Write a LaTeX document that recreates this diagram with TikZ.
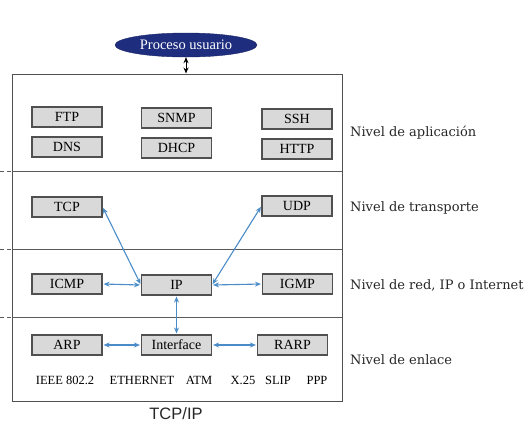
\documentclass[tikz,border=0pt]{standalone}
\usepackage{fontspec}
\setmainfont{Liberation Serif}
\newfontfamily\labelfont{DejaVu Serif}
\newfontfamily\sansfont{Liberation Sans}
\usetikzlibrary{arrows.meta,shapes.geometric}
\definecolor{boxfill}{RGB}{217,217,217}
\definecolor{boxline}{RGB}{80,80,80}
\definecolor{arrowblue}{RGB}{74,140,200}
\definecolor{navy}{RGB}{30,45,125}
\definecolor{sepline}{RGB}{90,90,90}
\tikzset{
  proto/.style={draw=boxline, line width=1.1pt, fill=boxfill, minimum width=70pt, minimum height=20pt, inner sep=0pt, font=\fontsize{14}{14}\selectfont},
  link/.style={draw=arrowblue, line width=1.1pt, {Stealth[length=6pt,width=5pt]}-{Stealth[length=6pt,width=5pt]}, shorten <=1pt, shorten >=1pt},
  levellabel/.style={anchor=west, inner sep=0pt, font=\labelfont\fontsize{13}{13}\selectfont, text=black!85},
  medium/.style={inner sep=0pt, font=\fontsize{12.5}{12.5}\selectfont, text=black},
  sep/.style={draw=sepline, line width=0.9pt},
  sepdash/.style={draw=sepline, line width=0.9pt, dash pattern=on 4pt off 3pt}
}
\begin{document}
\begin{tikzpicture}[x=1pt,y=-1pt]
\useasboundingbox (0,0) rectangle (525,424);
% outer stack box
\node[draw=boxline, line width=1pt, minimum width=330pt, minimum height=327pt, inner sep=0pt] (stack) at (177,237.5) {};
% separators
\coordinate (s1a) at (0,171.5); \coordinate (s1b) at (12,171.5); \coordinate (s1c) at (342,171.5);
\coordinate (s2a) at (0,249); \coordinate (s2b) at (12,249); \coordinate (s2c) at (342,249);
\coordinate (s3a) at (0,317.5); \coordinate (s3b) at (12,317.5); \coordinate (s3c) at (342,317.5);
\draw[sepdash] (s1a) -- (s1b); \draw[sep] (s1b) -- (s1c);
\draw[sepdash] (s2a) -- (s2b); \draw[sep] (s2b) -- (s2c);
\draw[sepdash] (s3a) -- (s3b); \draw[sep] (s3b) -- (s3c);
% user process
\node[ellipse, fill=navy, draw=navy!80!black, minimum width=142pt, minimum height=24pt, inner sep=0pt, text=white, font=\fontsize{14.5}{14.5}\selectfont] (user) at (186,45) {Proceso usuario};
\draw[line width=1pt, {Stealth[length=6pt,width=5pt]}-{Stealth[length=6pt,width=5pt]}] (user.south) -- (user.south |- stack.north);
% application
\node[proto] (ftp) at (67,117) {FTP};
\node[proto] (dns) at (67,147) {DNS};
\node[proto] (snmp) at (176.5,118) {SNMP};
\node[proto] (dhcp) at (176.5,148) {DHCP};
\node[proto] (ssh) at (297,119) {SSH};
\node[proto] (http) at (297,149) {HTTP};
% transport
\node[proto] (tcp) at (67,207) {TCP};
\node[proto] (udp) at (297,206) {UDP};
% network
\node[proto] (icmp) at (67,284) {ICMP};
\node[proto] (ip) at (176.5,285) {IP};
\node[proto] (igmp) at (297.5,284) {IGMP};
% link
\node[proto] (arp) at (67,345) {ARP};
\node[proto] (iface) at (176.5,345) {Interface};
\node[proto] (rarp) at (292.5,345) {RARP};
% connectors
\draw[link] (tcp.east) -- (ip.west);
\draw[link] (udp.west) -- (ip.east);
\draw[link] (icmp.east) -- (ip.west);
\draw[link] (igmp.west) -- (ip.east);
\draw[link] (ip.south) -- (iface.north);
\draw[link] (arp.east) -- (iface.west);
\draw[link] (iface.east) -- (rarp.west);
% media
\node[medium] (ieee) at (65,380) {IEEE 802.2};
\node[medium] (eth) at (142,380) {ETHERNET};
\node[medium] (atm) at (199,380) {ATM};
\node[medium] (x25) at (243,380) {X.25};
\node[medium] (slip) at (278,380) {SLIP};
\node[medium] (ppp) at (317,380) {PPP};
% title
\node[inner sep=0pt, font=\sansfont\fontsize{16.5}{16.5}\selectfont, text=black!85] (title) at (176,414) {TCP/IP};
% level labels
\node[levellabel] (lapp) at (350,133) {Nivel de aplicación};
\node[levellabel] (ltra) at (350,208) {Nivel de transporte};
\node[levellabel] (lred) at (350,285) {Nivel de red, IP o Internet};
\node[levellabel] (lenl) at (350,360) {Nivel de enlace};
\end{tikzpicture}
\end{document}
